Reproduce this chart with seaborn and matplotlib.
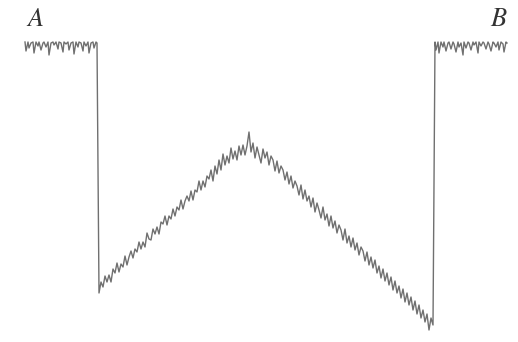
import matplotlib
matplotlib.use("Agg")
import matplotlib.pyplot as plt
import seaborn as sns
import pandas as pd

# Top-left plateau (x from 25 to 97)
left_x = [25, 26, 28, 29, 31, 33, 34, 36, 38, 39, 41, 43, 44, 46, 48, 49, 51, 53,
          54, 56, 58, 59, 61, 63, 64, 66, 68, 69, 71, 73, 74, 76, 78, 79, 81, 83,
          84, 86, 88, 89, 91, 93, 94, 96, 97]
left_y = [42, 51, 42, 48, 43, 42, 53, 42, 46, 42, 50, 43, 42, 47, 42, 55, 43, 42,
          45, 42, 49, 42, 43, 52, 42, 44, 42, 50, 43, 42, 54, 42, 47, 42, 43, 51,
          42, 46, 42, 53, 43, 42, 48, 42, 43]

# Rising limb (x from 99 to 249, step 2)
rise_x = list(range(99, 251, 2))
rise_y = [293, 282, 287, 276, 282, 275, 282, 269, 273, 263, 272, 264, 267, 256,
          265, 257, 251, 258, 249, 252, 242, 249, 242, 247, 233, 239, 240, 229,
          234, 227, 234, 222, 224, 216, 225, 216, 219, 209, 216, 207, 210, 200,
          209, 201, 196, 201, 191, 200, 190, 192, 181, 190, 181, 187, 176, 179,
          170, 181, 166, 174, 160, 170, 154, 165, 156, 163, 148, 159, 151, 160,
          146, 155, 145, 155, 146, 132]

# Falling limb (x from 251 to 433, step 2)
fall_x = list(range(251, 435, 2))
fall_y = [152, 143, 158, 147, 155, 163, 149, 158, 152, 165, 156, 160, 171, 161,
          173, 166, 170, 180, 172, 184, 176, 188, 181, 186, 195, 185, 199, 190,
          201, 196, 207, 198, 212, 203, 210, 218, 207, 220, 214, 226, 216, 228,
          221, 233, 225, 230, 240, 229, 243, 236, 247, 238, 250, 243, 255, 247,
          251, 261, 252, 265, 257, 268, 260, 273, 266, 278, 269, 281, 273, 285,
          277, 290, 281, 293, 286, 298, 289, 302, 293, 305, 297, 310, 301, 314,
          305, 318, 310, 322, 314, 330, 318, 325]

# Top-right plateau (x from 435 to 507)
right_x = [435, 436, 438, 439, 441, 443, 444, 446, 448, 449, 451, 453, 454, 456,
           458, 459, 461, 463, 464, 466, 468, 469, 471, 473, 474, 476, 478, 479,
           481, 483, 484, 486, 488, 489, 491, 493, 494, 496, 498, 499, 501, 503,
           504, 506, 507]
right_y = [42, 50, 42, 53, 42, 47, 42, 51, 43, 42, 49, 42, 44, 52, 42, 47, 43, 55,
           42, 48, 42, 43, 50, 42, 45, 42, 53, 42, 46, 42, 43, 49, 42, 44, 51, 42,
           43, 47, 42, 50, 42, 44, 52, 42, 43]

xs = left_x + rise_x + fall_x + right_x
ys = left_y + rise_y + fall_y + right_y
df = pd.DataFrame({"x": xs, "y": ys})

fig = plt.figure(figsize=(5.18, 3.42), dpi=100)
ax = fig.add_axes([0, 0, 1, 1])
sns.lineplot(data=df, x="x", y="y", sort=False, estimator=None,
             color="#707070", linewidth=1.0, ax=ax)
ax.set_xlim(0, 518)
ax.set_ylim(342, 0)
ax.axis("off")

serif = ["STIXGeneral", "DejaVu Serif"]
ax.text(35, 20, "A", fontsize=19, fontstyle="italic", family=serif,
        color="#333333", ha="center", va="center")
ax.text(498, 20, "B", fontsize=19, fontstyle="italic", family=serif,
        color="#333333", ha="center", va="center")

fig.savefig("out.png", dpi=100)
